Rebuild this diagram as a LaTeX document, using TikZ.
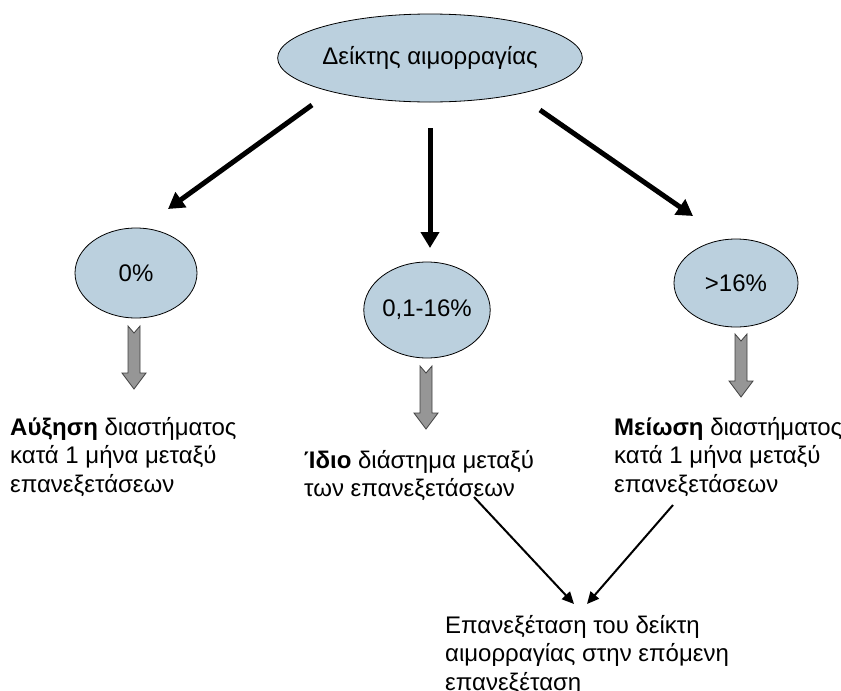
\documentclass[tikz,border=0pt]{standalone}
\usepackage{fontspec}
\setmainfont{Liberation Sans}
\usetikzlibrary{shapes.geometric,arrows.meta}
\definecolor{ellfill}{RGB}{187,208,222}
\definecolor{arrgray}{RGB}{150,150,150}
\tikzset{
  bubble/.style={ellipse, draw=black, line width=0.8pt, fill=ellfill, inner sep=0pt, font=\fontsize{24}{28}\selectfont},
  thickarrow/.style={line width=5pt, -{Triangle[length=16pt,width=18pt]}},
  thinarrow/.style={line width=2pt, -{Triangle[length=12pt,width=11pt]}},
  txt/.style={align=left, anchor=north west, inner sep=0pt, font=\fontsize{24}{28.5}\selectfont},
  grayarrow/.pic={\draw[fill=arrgray, draw=black!75, line width=0.8pt] (-6,0) -- (0,7) -- (6,0) -- (6,47) -- (12,47) -- (0,63) -- (-12,47) -- (-6,47) -- cycle;}
}
\begin{document}
\begin{tikzpicture}[x=1pt,y=-1pt]
\useasboundingbox (0,0) rectangle (841,691);
\node[bubble, minimum width=254pt, minimum height=88pt] (top) at (430,58) {Δείκτης αιμορραγίας};
\node[bubble, minimum width=122pt, minimum height=90pt] (left) at (136,273) {0\%};
\node[bubble, minimum width=120pt, minimum height=96pt] (mid) at (427,310) {0,1-16\%};
\node[bubble, minimum width=124pt, minimum height=88pt] (right) at (736,283) {>16\%};

\coordinate (lA) at (312,105); \coordinate (lB) at (168,209);
\coordinate (mA) at (430,128); \coordinate (mB) at (430,248);
\coordinate (rA) at (540,110); \coordinate (rB) at (693,216);
\draw[thickarrow] (lA) -- (lB);
\draw[thickarrow] (mA) -- (mB);
\draw[thickarrow] (rA) -- (rB);

\pic at (134,326) {grayarrow};
\pic at (426,366) {grayarrow};
\pic at (741,334) {grayarrow};

\node[txt] (tl) at (10,417) {\textbf{Αύξηση} διαστήματος\\κατά 1 μήνα μεταξύ\\επανεξετάσεων};
\node[txt] (tm) at (304,450) {\textbf{Ίδιο} διάστημα μεταξύ\\των επανεξετάσεων};
\node[txt] (tr) at (614,417) {\textbf{Μείωση} διαστήματος\\κατά 1 μήνα μεταξύ\\επανεξετάσεων};
\node[txt] (tb) at (445,615) {Επανεξέταση του δείκτη\\αιμορραγίας στην επόμενη\\επανεξέταση};

\coordinate (bA) at (474,497); \coordinate (bB) at (574,604);
\coordinate (cA) at (673,505); \coordinate (cB) at (587,604);
\draw[thinarrow] (bA) -- (bB);
\draw[thinarrow] (cA) -- (cB);
\end{tikzpicture}
\end{document}
